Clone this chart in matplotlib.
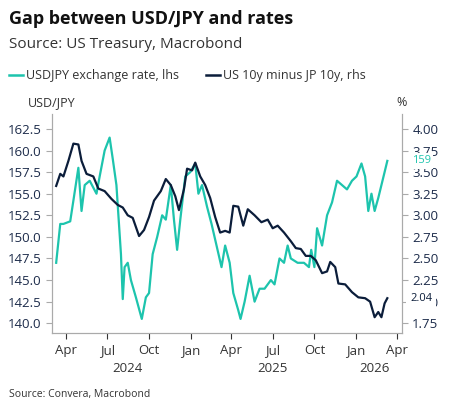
import matplotlib
matplotlib.use("Agg")
import matplotlib.pyplot as plt
import matplotlib.dates as mdates
import pandas as pd

plt.rcParams['font.family'] = ['Open Sans', 'DejaVu Sans']

TEAL = '#1dc4ad'
NAVY = '#0b1d3a'
GREY = '#333333'
TICK = '#1c2b4a'

# USD/JPY exchange rate (lhs)
fx_dates = ['2024-03-10', '2024-03-19', '2024-03-26', '2024-04-10', '2024-04-17', '2024-04-28',
            '2024-05-05', '2024-05-12', '2024-05-23', '2024-06-07', '2024-06-14', '2024-06-25',
            '2024-07-06', '2024-07-13', '2024-07-21', '2024-07-31', '2024-08-04', '2024-08-08',
            '2024-08-15', '2024-08-22', '2024-09-02', '2024-09-15', '2024-09-24', '2024-10-01',
            '2024-10-09', '2024-10-19', '2024-10-30', '2024-11-07', '2024-11-18', '2024-11-25',
            '2024-12-02', '2024-12-09', '2024-12-20', '2024-12-31', '2025-01-11', '2025-01-18',
            '2025-01-26', '2025-02-06', '2025-02-16', '2025-02-27', '2025-03-10', '2025-03-18',
            '2025-03-28', '2025-04-05', '2025-04-16', '2025-04-21', '2025-04-30', '2025-05-11',
            '2025-05-22', '2025-06-02', '2025-06-13', '2025-06-27', '2025-07-05', '2025-07-16',
            '2025-07-26', '2025-08-03', '2025-08-10', '2025-08-25', '2025-09-08', '2025-09-19',
            '2025-09-24', '2025-10-01', '2025-10-07', '2025-10-18', '2025-10-29', '2025-11-09',
            '2025-11-20', '2025-12-01', '2025-12-12', '2025-12-23', '2026-01-02', '2026-01-13',
            '2026-01-21', '2026-01-28', '2026-02-04', '2026-02-11', '2026-02-19', '2026-02-26',
            '2026-03-05', '2026-03-11']
fx_vals = [147.0, 151.5, 151.5, 151.8, 154.2, 158.0,
           153.0, 156.0, 156.5, 155.0, 157.0, 160.0,
           161.5, 159.0, 156.0, 148.0, 142.8, 146.5,
           147.0, 145.0, 143.0, 140.5, 143.0, 143.5,
           148.0, 150.0, 152.5, 152.0, 156.0, 152.0,
           148.5, 152.0, 157.0, 157.5, 158.5, 155.0,
           156.0, 153.5, 151.5, 149.0, 146.5, 149.0,
           147.0, 143.5, 141.5, 140.5, 142.5, 145.5,
           142.5, 144.0, 144.0, 145.0, 144.5, 147.5,
           147.0, 149.0, 147.5, 147.0, 147.0, 146.5,
           148.5, 146.5, 151.0, 149.0, 152.5, 154.0,
           156.5, 156.0, 155.5, 156.5, 157.0, 158.5,
           157.0, 153.0, 155.0, 153.0, 154.5, 156.0,
           157.5, 158.8]

# US 10y minus JP 10y spread (rhs)
sp_dates = ['2024-03-10', '2024-03-19', '2024-03-26', '2024-04-06', '2024-04-17', '2024-04-28',
            '2024-05-05', '2024-05-16', '2024-05-31', '2024-06-11', '2024-06-25', '2024-07-10',
            '2024-07-24', '2024-08-04', '2024-08-15', '2024-08-26', '2024-09-09', '2024-09-20',
            '2024-10-01', '2024-10-12', '2024-10-27', '2024-11-07', '2024-11-18', '2024-11-28',
            '2024-12-06', '2024-12-17', '2024-12-24', '2025-01-04', '2025-01-11', '2025-01-22',
            '2025-02-02', '2025-02-13', '2025-02-24', '2025-03-07', '2025-03-18', '2025-03-28',
            '2025-04-05', '2025-04-16', '2025-04-27', '2025-05-07', '2025-05-22', '2025-06-06',
            '2025-06-20', '2025-07-01', '2025-07-12', '2025-07-26', '2025-08-10', '2025-08-21',
            '2025-09-01', '2025-09-12', '2025-09-23', '2025-10-04', '2025-10-18', '2025-10-29',
            '2025-11-05', '2025-11-16', '2025-11-23', '2025-12-08', '2025-12-23', '2026-01-06',
            '2026-01-21', '2026-02-01', '2026-02-11', '2026-02-19', '2026-02-26', '2026-03-05',
            '2026-03-11']
sp_vals = [3.34, 3.48, 3.45, 3.63, 3.83, 3.82,
           3.63, 3.48, 3.45, 3.31, 3.28, 3.19,
           3.12, 3.09, 3.00, 2.97, 2.76, 2.83,
           2.98, 3.17, 3.28, 3.42, 3.35, 3.22,
           3.06, 3.30, 3.54, 3.52, 3.61, 3.45,
           3.35, 3.20, 2.98, 2.80, 2.82, 2.80,
           3.11, 3.10, 2.88, 3.07, 3.00, 2.92,
           2.95, 2.85, 2.88, 2.80, 2.70, 2.62,
           2.61, 2.53, 2.53, 2.48, 2.33, 2.35,
           2.46, 2.40, 2.21, 2.20, 2.11, 2.05,
           2.04, 2.00, 1.82, 1.88, 1.82, 1.98,
           2.04]

left_ticks = [140.0, 142.5, 145.0, 147.5, 150.0, 152.5, 155.0, 157.5, 160.0, 162.5]
right_ticks = [1.75, 2.00, 2.25, 2.50, 2.75, 3.00, 3.25, 3.50, 3.75, 4.00]

fig = plt.figure(figsize=(4.53, 4.17), dpi=100)
ax = fig.add_axes([0.115, 0.201, 0.772, 0.525])
ax2 = ax.twinx()

fxd = pd.to_datetime(fx_dates)
spd = pd.to_datetime(sp_dates)
ax.plot(fxd, fx_vals, color=TEAL, lw=1.6, zorder=2)
ax2.plot(spd, sp_vals, color=NAVY, lw=1.6, zorder=3)

ax.set_ylim(138.85, 164.2)
ax2.set_ylim(1.635, 4.17)
ax.set_yticks(left_ticks)
ax.set_yticklabels([f'{t:.1f}' for t in left_ticks])
ax2.set_yticks(right_ticks)
ax2.set_yticklabels([f'{t:.2f}' for t in right_ticks])
ax.set_xlim(pd.Timestamp('2024-03-01'), pd.Timestamp('2026-04-12'))

ax.xaxis.set_major_locator(mdates.MonthLocator(bymonth=[1, 4, 7, 10]))
ax.xaxis.set_major_formatter(mdates.DateFormatter('%b'))

for a in (ax, ax2):
    a.spines['top'].set_visible(False)
    for s in a.spines.values():
        s.set_color('#aaaaaa')
    a.tick_params(colors=TICK, labelsize=9.5, length=4, color='#aaaaaa')
    a.tick_params(axis='x', colors=GREY)

# year labels
for yr, mid in [('2024', '2024-08-15'), ('2025', '2025-07-01'), ('2026', '2026-02-10')]:
    ax.text(pd.Timestamp(mid), -0.13, yr, transform=ax.get_xaxis_transform(),
            ha='center', va='top', fontsize=9.5, color=GREY)

# end labels, drawn over the tick labels
box = dict(facecolor='white', edgecolor='none', pad=1.5)
ax2.text(1.03, (fx_vals[-1] - 138.85) / (164.2 - 138.85), f'{fx_vals[-1]:.0f}',
         transform=ax.transAxes, color=TEAL, fontsize=8, va='center', ha='left',
         bbox=box, zorder=10, clip_on=False)
ax2.annotate(f'{sp_vals[-1]:.2f}', xy=(1.0, sp_vals[-1]), xycoords=('axes fraction', 'data'),
             xytext=(6, 0), textcoords='offset points', color=NAVY, fontsize=8, va='center',
             bbox=dict(facecolor='white', edgecolor='none', pad=3), zorder=10,
             annotation_clip=False)

fig.text(0.02, 0.955, 'Gap between USD/JPY and rates', fontsize=13, fontweight='bold',
         color='#111111', va='center')
fig.text(0.02, 0.893, 'Source: US Treasury, Macrobond', fontsize=11, color=GREY, va='center')

# legend
fig.lines.append(plt.Line2D([0.02, 0.05], [0.82, 0.82], color=TEAL, lw=1.8, transform=fig.transFigure))
fig.text(0.057, 0.82, 'USDJPY exchange rate, lhs', fontsize=9, color=GREY, va='center')
fig.lines.append(plt.Line2D([0.455, 0.485], [0.82, 0.82], color=NAVY, lw=1.8, transform=fig.transFigure))
fig.text(0.492, 0.82, 'US 10y minus JP 10y, rhs', fontsize=9, color=GREY, va='center')

fig.text(0.115, 0.753, 'USD/JPY', fontsize=9, color=GREY, va='center', ha='center')
fig.text(0.887, 0.753, '%', fontsize=9, color=GREY, va='center', ha='center')
fig.text(0.02, 0.053, 'Source: Convera, Macrobond', fontsize=7.5, color=GREY, va='center')

fig.savefig('out.png', dpi=100)
